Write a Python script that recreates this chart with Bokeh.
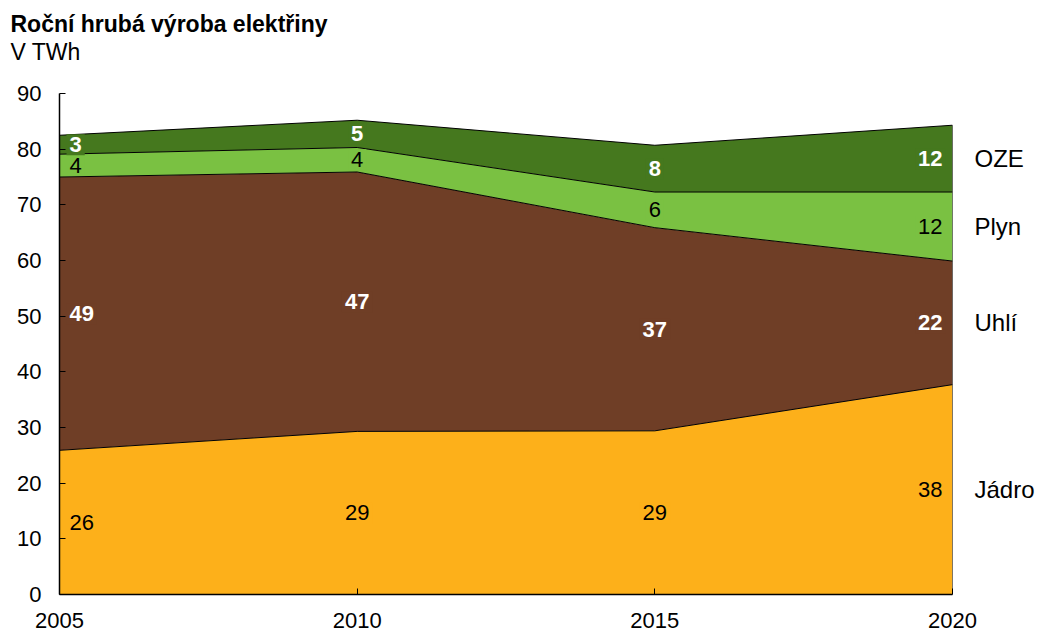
from bokeh.plotting import figure
from bokeh.models import ColumnDataSource, Range1d, Label, FixedTicker, LinearAxis, Title
from bokeh.embed import file_html
from bokeh.resources import INLINE

years = [2005, 2010, 2015, 2020]
series_names = ["Jádro", "Uhlí", "Plyn", "OZE"]
jadro = [25.9, 29.3, 29.4, 37.7]
uhli = [49.1, 46.6, 36.5, 22.2]
plyn = [4.1, 4.4, 6.4, 12.4]
oze = [3.4, 4.9, 8.4, 12.0]
value_labels = {
    "Jádro": ["26", "29", "29", "38"],
    "Uhlí": ["49", "47", "37", "22"],
    "Plyn": ["4", "4", "6", "12"],
    "OZE": ["3", "5", "8", "12"],
}
colors = ["#FDB01A", "#6F3E26", "#7AC142", "#45781E"]
label_colors = ["black", "white", "black", "white"]
label_bold = [False, True, False, True]
title_text = "Roční hrubá výroba elektřiny"
subtitle_text = "V TWh"
y_ticks = [0, 10, 20, 30, 40, 50, 60, 70, 80, 90]
x_ticks = [2005, 2010, 2015, 2020]

FONT = "Liberation Sans"
keys = ["jadro", "uhli", "plyn", "oze"]
data = dict(year=years, jadro=jadro, uhli=uhli, plyn=plyn, oze=oze)
src = ColumnDataSource(data)

p = figure(width=1038, height=637, output_backend="svg", toolbar_location=None,
           x_range=Range1d(2005, 2020), y_range=Range1d(0, 90),
           min_border_left=59, min_border_right=86, min_border_top=93, min_border_bottom=43)
p.title = None
p.outline_line_color = None
p.xgrid.visible = False
p.ygrid.visible = False

p.varea_stack(keys, x="year", color=colors, source=src)
p.vline_stack(keys, x="year", color="black", line_width=1, source=src)

totals = [sum(v) for v in zip(jadro, uhli, plyn, oze)]
p.segment(x0=[years[-1]], y0=[0], x1=[years[-1]], y1=[totals[-1]], line_color="black", line_width=1)

for ax in (p.xaxis[0], p.yaxis[0]):
    ax.axis_line_color = "black"
    ax.axis_line_width = 1.5
    ax.major_tick_line_color = "black"
    ax.major_tick_in = 6
    ax.major_tick_out = 0
    ax.minor_tick_line_color = None
    ax.major_label_text_font = FONT
    ax.major_label_text_color = "black"
    ax.major_label_text_font_size = "22px"
    ax.major_label_standoff = 18
p.yaxis[0].ticker = FixedTicker(ticks=y_ticks)
p.xaxis[0].ticker = FixedTicker(ticks=x_ticks)

# value labels
series = [jadro, uhli, plyn, oze]
bases = [0.0] * len(years)
legend_ticks = []
legend_overrides = {}
for si, name in enumerate(series_names):
    vals = series[si]
    for i, yr in enumerate(years):
        mid = bases[i] + vals[i] / 2.0
        if i == 0:
            align, xoff = "left", 7
        elif i == len(years) - 1:
            align, xoff = "right", -7
        else:
            align, xoff = "center", 0
        p.add_layout(Label(x=yr, y=mid, text=value_labels[name][i], text_align=align,
                           text_baseline="middle", x_offset=xoff,
                           text_font=FONT, text_font_size="22px",
                           text_color=label_colors[si],
                           text_font_style="bold" if label_bold[si] else "normal",
                           background_fill_color=colors[si], padding=3))
    mid_last = round(bases[-1] + vals[-1] / 2.0, 3)
    legend_ticks.append(mid_last)
    legend_overrides[mid_last] = name
    bases = [b + v for b, v in zip(bases, vals)]

# series names at the right, as an axis without line and ticks
right_ax = LinearAxis(ticker=FixedTicker(ticks=legend_ticks),
                      major_label_overrides=legend_overrides,
                      axis_line_color=None, major_tick_line_color=None,
                      minor_tick_line_color=None, major_label_standoff=16,
                      major_label_text_font=FONT, major_label_text_font_size="24px",
                      major_label_text_color="black")
p.add_layout(right_ax, "right")

# titles (stacked upward from the frame: spacer, subtitle, title)
p.add_layout(Title(text=" ", standoff=26, text_font=FONT, text_font_size="1px"), "above")
p.add_layout(Title(text=subtitle_text, align="left", offset=-49, standoff=0,
                   text_font=FONT, text_font_size="23px", text_font_style="normal",
                   text_color="black"), "above")
p.add_layout(Title(text=title_text, align="left", offset=-49, standoff=0,
                   text_font=FONT, text_font_size="23px", text_font_style="bold",
                   text_color="black"), "above")

open("out.html", "w").write(file_html(p, INLINE))
